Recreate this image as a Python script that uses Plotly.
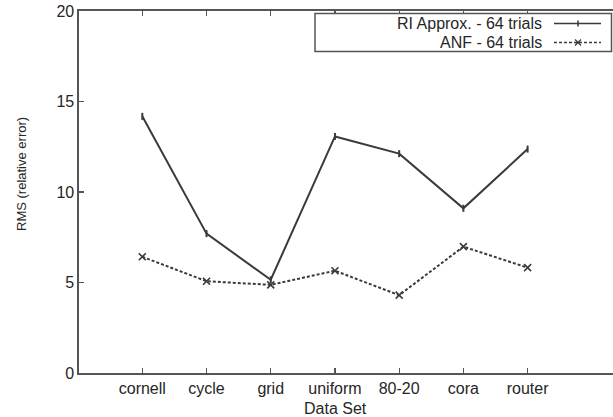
import plotly.graph_objects as go

categories = ["cornell", "cycle", "grid", "uniform", "80-20", "cora", "router"]
ri_approx = [14.18, 7.70, 5.15, 13.07, 12.12, 9.10, 12.37]
anf = [6.42, 5.07, 4.87, 5.65, 4.30, 6.98, 5.82]
series_names = ["RI Approx. - 64 trials", "ANF - 64 trials"]
y_ticks = [0, 5, 10, 15, 20]

W, H = 613, 417
L, T, B, R = 79, 11, 44, 0
pw, ph = W - L - R, H - T - B

def px_x(p):
    return (p - L) / pw

def px_y(p):
    return (H - B - p) / ph

line_col = "#3a3a3a"
axis_col = "#555555"
text_col = "#262626"
font_fam = "Liberation Sans, Arial, sans-serif"
x_range = [-0.986, 7.33]

fig = go.Figure()
fig.add_trace(go.Scatter(
    x=categories, y=ri_approx, mode="lines+markers", name=series_names[0],
    line=dict(color=line_col, width=2),
    marker=dict(symbol="line-ns", size=5, line=dict(color=line_col, width=2)),
    showlegend=False))
fig.add_trace(go.Scatter(
    x=categories, y=anf, mode="lines+markers", name=series_names[1],
    line=dict(color=line_col, width=2, dash="3px,2px"),
    marker=dict(symbol="x-thin", size=7, line=dict(color=line_col, width=1.6)),
    showlegend=False))

tick_style = dict(ticks="inside", ticklen=5, tickwidth=1.3, tickcolor=axis_col,
                  showgrid=False, zeroline=False)

fig.update_layout(
    xaxis=dict(type="category", range=x_range, categoryarray=categories,
               showline=True, linecolor=axis_col, linewidth=1.6, mirror="allticks",
               tickfont=dict(family=font_fam, size=16, color=text_col), **tick_style),
    yaxis=dict(range=[0, 20], tickvals=y_ticks,
               showline=True, linecolor=axis_col, linewidth=1.6, mirror=False,
               tickfont=dict(family=font_fam, size=16, color=text_col), **tick_style),
)

annotations = [
    dict(text="RMS (relative error)", xref="paper", yref="paper",
         x=px_x(21), y=px_y(174), textangle=-90, showarrow=False,
         xanchor="center", yanchor="middle",
         font=dict(family=font_fam, size=13, color=text_col)),
    dict(text="Data Set", xref="paper", yref="paper",
         x=px_x(335), y=px_y(408), showarrow=False,
         xanchor="center", yanchor="middle",
         font=dict(family=font_fam, size=16, color=text_col)),
]
row_y = [23.5, 42.5]
for name, ry in zip(series_names, row_y):
    annotations.append(dict(text=name, xref="paper", yref="paper",
                            x=px_x(544), y=px_y(ry), showarrow=False,
                            xanchor="right", yanchor="middle",
                            font=dict(family=font_fam, size=16, color=text_col)))

shapes = [
    dict(type="rect", xref="paper", yref="paper",
         x0=px_x(315), x1=px_x(611.5), y0=px_y(13.5), y1=px_y(51.5),
         line=dict(color=axis_col, width=1.5), fillcolor="white", layer="above"),
    dict(type="line", xref="paper", yref="paper",
         x0=px_x(554), x1=px_x(601), y0=px_y(row_y[0]), y1=px_y(row_y[0]),
         line=dict(color=line_col, width=1.5)),
    dict(type="line", xref="paper", yref="paper",
         x0=px_x(578), x1=px_x(578), y0=px_y(row_y[0] - 3), y1=px_y(row_y[0] + 3),
         line=dict(color=line_col, width=1.5)),
    dict(type="line", xref="paper", yref="paper",
         x0=px_x(554), x1=px_x(601), y0=px_y(row_y[1]), y1=px_y(row_y[1]),
         line=dict(color=line_col, width=1.5, dash="3px,2px")),
    dict(type="line", xref="paper", yref="paper",
         x0=px_x(575), x1=px_x(581), y0=px_y(row_y[1] - 3), y1=px_y(row_y[1] + 3),
         line=dict(color=line_col, width=1.3)),
    dict(type="line", xref="paper", yref="paper",
         x0=px_x(575), x1=px_x(581), y0=px_y(row_y[1] + 3), y1=px_y(row_y[1] - 3),
         line=dict(color=line_col, width=1.3)),
]

fig.update_layout(
    width=W, height=H, margin=dict(l=L, r=R, t=T, b=B, pad=0, autoexpand=False),
    paper_bgcolor="white", plot_bgcolor="white",
    annotations=annotations, shapes=shapes, showlegend=False)

fig.write_html("out.html", config={"staticPlot": True, "displayModeBar": False})
